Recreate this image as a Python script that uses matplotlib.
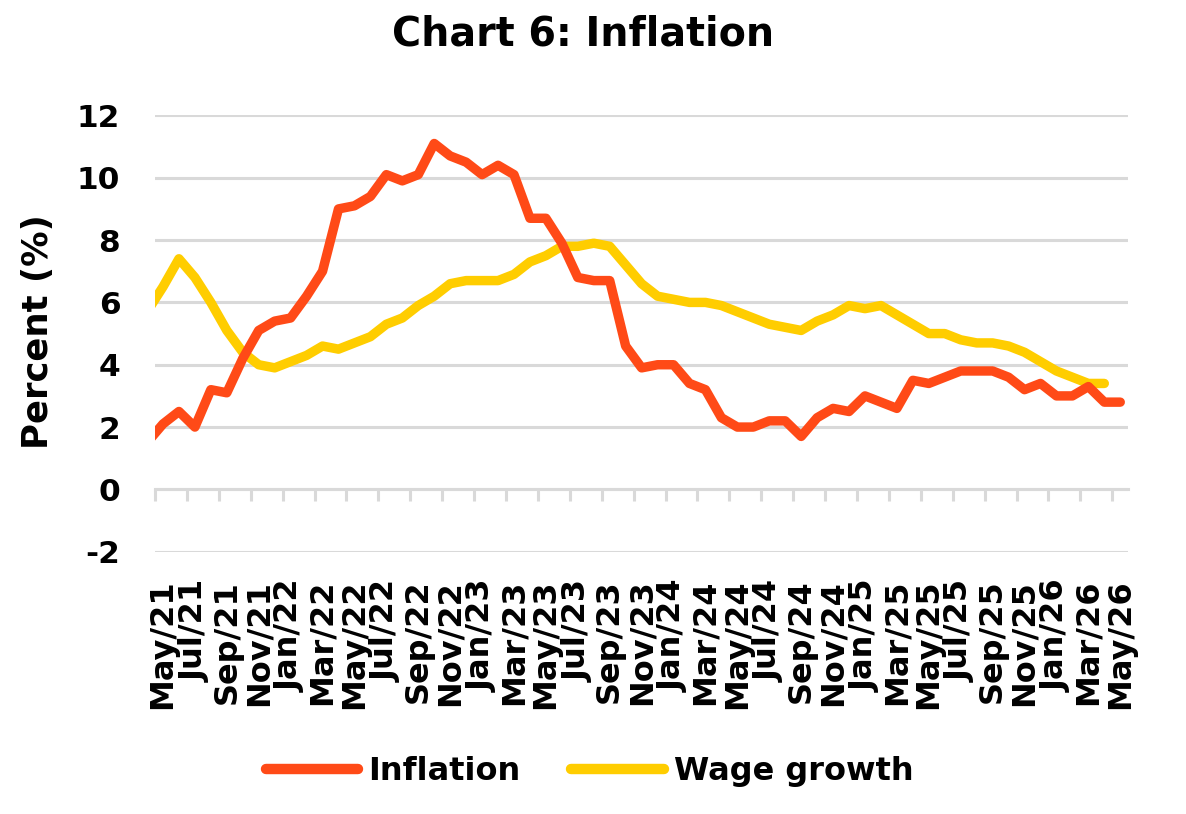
import numpy as np
import pandas as pd
import matplotlib
matplotlib.use('Agg')
import matplotlib.pyplot as plt

# monthly series, Apr/21 .. May/26 (Apr/21 sits just outside the left edge)
months = pd.date_range('2021-04-01', '2026-05-01', freq='MS')
month_labels = [d.strftime('%b/%y') for d in months]

inflation = [1.5, 2.1, 2.5, 2.0, 3.2, 3.1, 4.2, 5.1, 5.4,
             5.5, 6.2, 7.0, 9.0, 9.1, 9.4, 10.1, 9.9, 10.1, 11.1, 10.7, 10.5,
             10.1, 10.4, 10.1, 8.7, 8.7, 7.9, 6.8, 6.7, 6.7, 4.6, 3.9, 4.0,
             4.0, 3.4, 3.2, 2.3, 2.0, 2.0, 2.2, 2.2, 1.7, 2.3, 2.6, 2.5,
             3.0, 2.8, 2.6, 3.5, 3.4, 3.6, 3.8, 3.8, 3.8, 3.6, 3.2, 3.4,
             3.0, 3.0, 3.3, 2.8, 2.8]
wage_growth = [5.7, 6.5, 7.4, 6.8, 6.0, 5.1, 4.4, 4.0, 3.9,
               4.1, 4.3, 4.6, 4.5, 4.7, 4.9, 5.3, 5.5, 5.9, 6.2, 6.6, 6.7,
               6.7, 6.7, 6.9, 7.3, 7.5, 7.8, 7.8, 7.9, 7.8, 7.2, 6.6, 6.2,
               6.1, 6.0, 6.0, 5.9, 5.7, 5.5, 5.3, 5.2, 5.1, 5.4, 5.6, 5.9,
               5.8, 5.9, 5.6, 5.3, 5.0, 5.0, 4.8, 4.7, 4.7, 4.6, 4.4, 4.1,
               3.8, 3.6, 3.4, 3.4, np.nan]

RED = '#FF4A17'
YELLOW = '#FFCD00'
GRID = '#D9D9D9'

plt.rcParams['font.family'] = ['DejaVu Sans']
plt.rcParams['font.weight'] = 'bold'
plt.rcParams['axes.unicode_minus'] = False

fig = plt.figure(figsize=(11.86, 8.14), dpi=100)
ax = fig.add_axes([0.1307, 0.3222, 0.8206, 0.536])

x = np.arange(len(months))
ax.plot(x, inflation, color=RED, lw=6.8, solid_capstyle='round',
        solid_joinstyle='round', label='Inflation', zorder=3)
ax.plot(x, wage_growth, color=YELLOW, lw=6.8, solid_capstyle='round',
        solid_joinstyle='round', label='Wage growth', zorder=2)

ax.set_xlim(0.5, len(months) - 0.5)
ax.set_ylim(-2, 12)

# y axis: gridlines only
ax.set_yticks(np.arange(-2, 13, 2))
ax.yaxis.grid(True, color=GRID, lw=2.2)
ax.set_axisbelow(True)
ax.tick_params(axis='y', length=0, pad=25, labelsize=22.5)
for lab in ax.get_yticklabels():
    lab.set_fontweight('bold')

for s in ['top', 'right', 'left']:
    ax.spines[s].set_visible(False)
ax.spines['bottom'].set_position(('data', 0))
ax.spines['bottom'].set_color(GRID)
ax.spines['bottom'].set_linewidth(2.2)

# tick marks between categories, labels on every second month
ax.set_xticks(np.arange(0.5, len(months) - 1, 2))
ax.set_xticklabels([])
ax.tick_params(axis='x', which='major', direction='out', length=8.5,
               width=2.2, color=GRID)
ax.set_xticks(x[1::2], minor=True)
ax.set_xticklabels(month_labels[1::2], minor=True, rotation=90,
                   fontsize=23, fontweight='bold')
ax.tick_params(axis='x', which='minor', length=0, pad=65)

fig.text(0.032, 0.592, 'Percent (%)', rotation=90, ha='center', va='center',
         fontsize=25.5, fontweight='bold')
fig.text(0.4916, 0.958, 'Chart 6: Inflation', ha='center', va='center',
         fontsize=28.5, fontweight='bold')

leg = fig.legend(loc='center', bbox_to_anchor=(0.497, 0.0516), ncol=2,
                 frameon=False, fontsize=23, handlelength=2.9,
                 handletextpad=0.3, columnspacing=1.6)
for t in leg.get_texts():
    t.set_fontweight('bold')
for h in leg.get_lines():
    h.set_linewidth(7.5)
    h.set_solid_capstyle('round')

fig.savefig('out.png', dpi=100)
